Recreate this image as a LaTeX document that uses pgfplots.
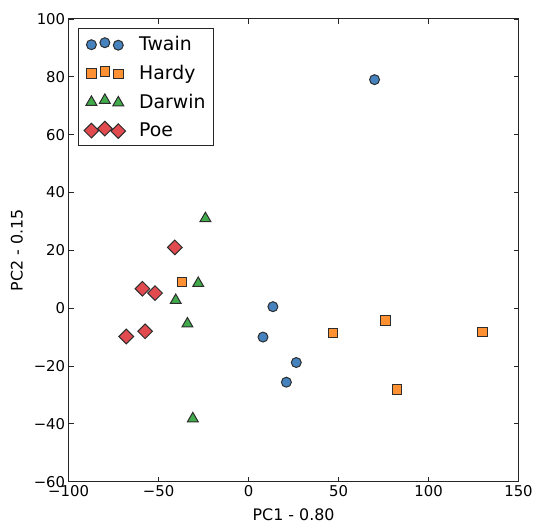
\documentclass[border=0pt]{standalone}
\usepackage{fontspec}
\setmainfont{DejaVu Sans}
\usepackage{pgfplots}
\pgfplotsset{compat=1.18}

\definecolor{cTwain}{RGB}{70,130,190}
\definecolor{cHardy}{RGB}{255,145,50}
\definecolor{cDarwin}{RGB}{65,170,75}
\definecolor{cPoe}{RGB}{225,75,80}
\definecolor{edge}{RGB}{45,45,45}

\begin{document}
\begin{tikzpicture}
\begin{axis}[
    scale only axis,
    width=452bp, height=465bp,
    xmin=-100, xmax=150,
    ymin=-60, ymax=100,
    xtick={-100,-50,0,50,100,150},
    xticklabels={−100,−50,0,50,100,150},
    ytick={-60,-40,-20,0,20,40,60,80,100},
    yticklabels={−60,−40,−20,0,20,40,60,80,100},
    tick align=inside,
    major tick length=5bp,
    minor tick num=0,
    axis line style={line width=1.1bp, black!85},
    tick style={line width=0.8bp, black!85},
    tick label style={font=\fontsize{15}{18}\selectfont},
    label style={font=\fontsize{16}{19}\selectfont},
    xlabel={PC1 - 0.80},
    ylabel={PC2 - 0.15},
    xlabel style={at={([yshift=-33bp]axis description cs:0.5,0)}, anchor=center},
    ylabel style={at={([xshift=-52bp]axis description cs:0,0.5)}, anchor=center},
    legend style={
        at={(0,1)}, anchor=north west,
        xshift=9bp, yshift=-9bp,
        draw=black!85, line width=1bp,
        font=\fontsize{19}{22}\selectfont,
        cells={anchor=west},
        row sep=9bp,
        inner xsep=6bp, inner ysep=6bp,
    },
    legend image code/.code={
        \draw[only marks] plot coordinates {(0bp,-0.5bp) (13.5bp,1.5bp) (27bp,-1bp)};
        \path[draw=none, fill=none] (0bp,0bp) -- (46bp,0bp);
    },
    every axis plot/.append style={line width=1bp},
]

% Twain
\addplot[only marks, mark=*, mark size=5bp, draw=edge, fill=cTwain]
coordinates {
    (70,79) (13.5,0.5) (8,-10) (26.5,-18.8) (21,-25.6)
};
\addlegendentry{Twain}

% Hardy
\addplot[only marks, mark=square*, mark size=4.8bp, draw=edge, fill=cHardy]
coordinates {
    (-37,9) (47,-8.6) (76,-4.3) (130,-8.2) (82.5,-28.2)
};
\addlegendentry{Hardy}

% Darwin
\addplot[only marks, mark=triangle*, mark size=6.3bp, draw=edge, fill=cDarwin]
coordinates {
    (-24,31) (-28,8.6) (-40.5,2.7) (-34,-5.4) (-31,-38.2)
};
\addlegendentry{Darwin}

% Poe
\addplot[only marks, mark=square*, mark size=5.2bp, mark options={rotate=45}, draw=edge, fill=cPoe]
coordinates {
    (-41,21) (-59,6.7) (-52,5.2) (-57.5,-8) (-68,-9.8)
};
\addlegendentry{Poe}

\end{axis}
% page margins as in the reference
\path ([xshift=-69bp,yshift=19bp]current axis.north west)
    rectangle ([xshift=15bp,yshift=-42bp]current axis.south east);
\end{tikzpicture}
\end{document}
